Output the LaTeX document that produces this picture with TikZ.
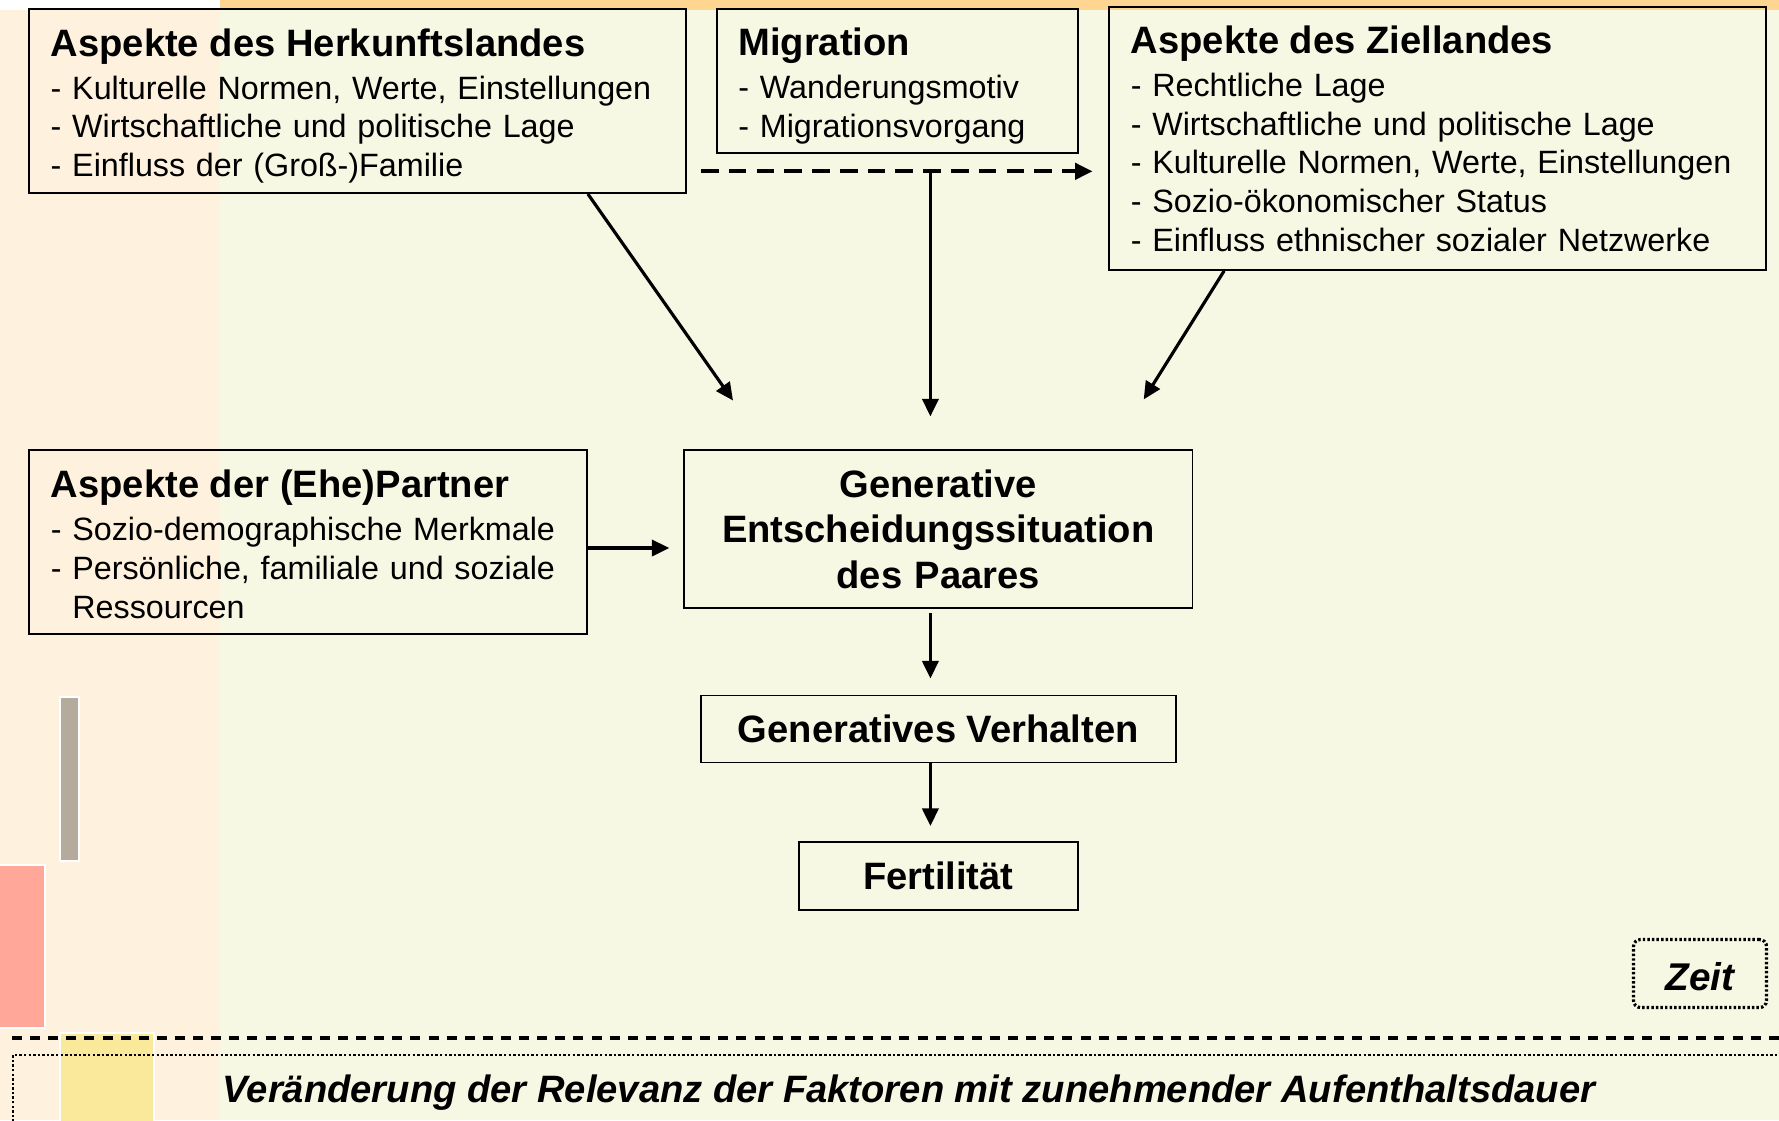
\documentclass[tikz,border=0pt]{standalone}
\usepackage{fontspec}
\setmainfont{Liberation Sans}
\usetikzlibrary{arrows.meta,positioning}
\definecolor{bgcol}{rgb}{0.969, 0.973, 0.894}
\definecolor{stripcol}{rgb}{0.996, 0.949, 0.871}
\definecolor{bandcol}{rgb}{1.0, 0.839, 0.569}
\definecolor{greycol}{rgb}{0.71, 0.671, 0.612}
\definecolor{salmoncol}{rgb}{1.0, 0.659, 0.604}
\definecolor{yellowcol}{rgb}{0.984, 0.914, 0.608}
\newcommand{\titlef}{\fontsize{10.85}{12.8}\selectfont\bfseries}
\newcommand{\bodyf}{\fontsize{9.18}{11}\selectfont}
\newcommand{\tstrut}[1]{\rule{0pt}{#1}}

\begin{document}
\begin{tikzpicture}[x=0.01cm,y=-0.01cm,
  box/.style={draw, line width=0.5pt, inner xsep=0.216cm, inner ysep=0pt, align=left, font=\bodyf},
  arr/.style={line width=0.9pt, -{Triangle[length=5pt,width=4.6pt]}},
  dashline/.style={line width=1.1pt, dash pattern=on 5pt off 2.9pt},
  dotline/.style={line width=0.8pt, dash pattern=on 0.7pt off 0.6pt}]
\useasboundingbox (0,0) rectangle (1779,1120);
% background
\fill[bgcol] (0,0) rectangle (1779,1120);
\fill[stripcol] (0,10) rectangle (220,1120);
\fill[white] (0,0) rectangle (220,10);
\fill[bandcol] (220,0) rectangle (1779,10);
\filldraw[fill=greycol, draw=white, line width=0.6pt] (60,697) rectangle (79,861);
\filldraw[fill=salmoncol, draw=white, line width=0.6pt] (-5,865) rectangle (45,1028);
\filldraw[fill=yellowcol, draw=white, line width=0.6pt] (60,1033) rectangle (154,1130);
% boxes
\draw (357.4,101) node (herkunft) [box, text width=6.13cm, minimum height=1.84cm]
  {{\titlef\tstrut{10.6pt}Aspekte des Herkunftslandes}\\[1.3pt]
   - Kulturelle Normen, Werte, Einstellungen\\
   - Wirtschaftliche und politische Lage\\
   - Einfluss der (Groß-)Familie};
\draw (897.5,81) node (migration) [box, text width=3.18cm, minimum height=1.44cm]
  {{\titlef\tstrut{10.6pt}Migration}\\[1.3pt]
   - Wanderungsmotiv\\
   - Migrationsvorgang};
\draw (1437.5,138.4) node (ziel) [box, text width=6.13cm, minimum height=2.63cm]
  {{\titlef Aspekte des Ziellandes}\\[1.3pt]
   - Rechtliche Lage\\
   - Wirtschaftliche und politische Lage\\
   - Kulturelle Normen, Werte, Einstellungen\\
   - Sozio-ökonomischer Status\\
   - Einfluss ethnischer sozialer Netzwerke};
\draw (308,542.3) node (partner) [box, text width=5.14cm, minimum height=1.84cm]
  {{\titlef\tstrut{9pt}Aspekte der (Ehe)Partner}\\[1.3pt]
   - Sozio-demographische Merkmale\\
   - Persönliche, familiale und soziale\\
   \hphantom{-~}Ressourcen};
\draw (938.3,529.3) node (entsch) [box, align=center, text width=4.65cm, minimum height=1.58cm,
  font=\fontsize{10.85}{12.9}\selectfont\bfseries]
  {Generative\\ Entscheidungssituation\\ des Paares};
\draw (938.3,729) node (verhalten) [box, minimum width=4.745cm, minimum height=0.67cm, font=\titlef]
  {Generatives Verhalten};
\draw (938.3,876) node (fertil) [box, minimum width=2.79cm, minimum height=0.68cm, font=\titlef]
  {Fertilität};
\draw (1700,973.5) node (zeit) [draw, dotline, line width=0.9pt, rounded corners=2pt,
  minimum width=1.33cm, minimum height=0.68cm, font=\fontsize{11}{13}\selectfont\bfseries\itshape]
  {\tstrut{9.5pt}Zeit};
\draw (909,1093) node (veraend) [font=\fontsize{10.85}{13}\selectfont\bfseries\itshape]
  {Veränderung der Relevanz der Faktoren mit zunehmender Aufenthaltsdauer};
% free ends of the arrows
\coordinate (tipH) at (733,400.5);
\coordinate (tipM) at (930.4,416.4);
\coordinate (tipZ) at (1143.7,399.4);
\coordinate (tipP) at (669.4,548);
\coordinate (tipE) at (930.4,678.5);
\coordinate (tipV) at (930.4,826);
\coordinate (dashS) at (701,171.3);
\coordinate (dashE) at (1092.6,171.3);
% arrows
\draw[arr] (herkunft.south east) ++(-98.7,0) -- (tipH);
\draw[arr, dashline] (dashS) -- (dashE);
\draw[arr] (dashS -| tipM) -- (tipM);
\draw[arr] (ziel.south west) ++(115.8,0) -- (tipZ);
\draw[arr] (partner.east |- tipP) -- (tipP);
\draw[arr] (entsch.south -| tipE) ++(0,4) -- (tipE);
\draw[arr] (verhalten.south -| tipV) -- (tipV);
% time line
\draw[line width=1.1pt, dash pattern=on 2.85pt off 2.3pt] (12,1038) -- (1790,1038);
\draw[dotline] (13,1140) -- (13,1055) -- (1790,1055);
\end{tikzpicture}
\end{document}
